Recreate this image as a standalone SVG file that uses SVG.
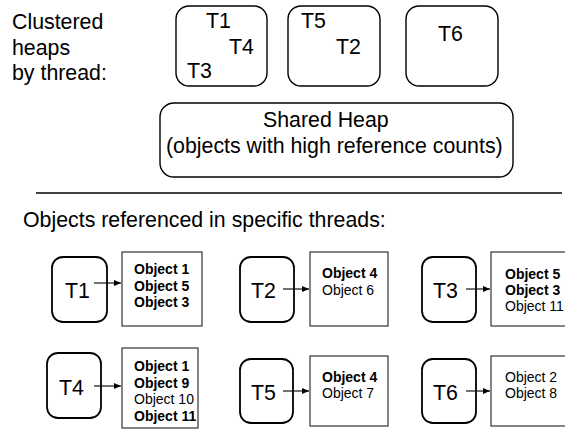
<svg xmlns="http://www.w3.org/2000/svg" width="565" height="429" viewBox="0 0 565 429">
<style>
text{font-family:"Liberation Sans",Arial,sans-serif;fill:#000}
.big{font-size:21.33px}
.obj{font-size:14px}
.b{font-weight:bold}
.heap{fill:#fff;stroke:#000;stroke-width:1.4}
.thr{fill:#fff;stroke:#000;stroke-width:1.8}
.box{fill:#fff;stroke:#222;stroke-width:1.1}
.conn{stroke:#000;stroke-width:1.1;fill:none}
</style>
<defs>
<marker id="ah" markerUnits="userSpaceOnUse" markerWidth="8" markerHeight="8" refX="7" refY="4" orient="auto">
<path d="M0,1 L7,4 L0,7 Z" fill="#000"/>
</marker>
</defs>
<rect width="565" height="429" fill="#fff"/>
<g id="caption-top">
<text class="big" x="12" y="29">Clustered</text>
<text class="big" x="12" y="55">heaps</text>
<text class="big" x="12" y="80">by thread:</text>
</g>
<g id="heap1">
<rect class="heap" x="176" y="6" width="91" height="80" rx="13"/>
<text class="big" x="206" y="28">T1</text>
<text class="big" x="229" y="54">T4</text>
<text class="big" x="187" y="78">T3</text>
</g>
<g id="heap2">
<rect class="heap" x="288" y="6" width="92" height="80" rx="13"/>
<text class="big" x="301" y="28">T5</text>
<text class="big" x="336" y="54">T2</text>
</g>
<g id="heap3">
<rect class="heap" x="406" y="6" width="92" height="80" rx="13"/>
<text class="big" x="438" y="41">T6</text>
</g>
<g id="shared">
<rect class="heap" x="160" y="103" width="353" height="74" rx="14"/>
<text class="big" x="263" y="127">Shared Heap</text>
<text class="big" x="166" y="153">(objects with high reference counts)</text>
</g>
<line x1="36" y1="193" x2="562" y2="193" stroke="#000" stroke-width="1.3"/>
<g id="caption-bottom">
<text class="big" x="23" y="227">Objects referenced in specific threads:</text>
</g>
<g id="t1">
<rect class="thr" x="52" y="257" width="55" height="65" rx="11"/>
<text class="big" x="65" y="298">T1</text>
</g>
<g id="o1">
<rect class="box" x="122" y="252" width="80" height="74"/>
<text class="obj b" x="134" y="274">Object 1</text>
<text class="obj b" x="134" y="290.5">Object 5</text>
<text class="obj b" x="134" y="307">Object 3</text>
</g>
<g id="t2">
<rect class="thr" x="240" y="257" width="54" height="65" rx="11"/>
<text class="big" x="251" y="298">T2</text>
</g>
<g id="o2">
<rect class="box" x="310" y="252" width="78" height="74"/>
<text class="obj b" x="322" y="278">Object 4</text>
<text class="obj" x="322" y="295">Object 6</text>
</g>
<g id="t3">
<rect class="thr" x="422" y="257" width="54" height="65" rx="11"/>
<text class="big" x="433" y="298">T3</text>
</g>
<g id="o3">
<rect class="box" x="491" y="252" width="80" height="74"/>
<text class="obj b" x="505" y="279">Object 5</text>
<text class="obj b" x="505" y="295">Object 3</text>
<text class="obj" x="505" y="311">Object 11</text>
</g>
<g id="t4">
<rect class="thr" x="47" y="353" width="54" height="65" rx="11"/>
<text class="big" x="59" y="395">T4</text>
</g>
<g id="o4">
<rect class="box" x="122" y="348" width="76" height="80"/>
<text class="obj b" x="134" y="371">Object 1</text>
<text class="obj b" x="134" y="387.5">Object 9</text>
<text class="obj" x="134" y="404">Object 10</text>
<text class="obj b" x="134" y="420.5">Object 11</text>
</g>
<g id="t5">
<rect class="thr" x="240" y="359" width="53" height="64" rx="11"/>
<text class="big" x="251" y="400">T5</text>
</g>
<g id="o5">
<rect class="box" x="310" y="356" width="78" height="70"/>
<text class="obj b" x="322" y="382">Object 4</text>
<text class="obj" x="322" y="398">Object 7</text>
</g>
<g id="t6">
<rect class="thr" x="422" y="359" width="54" height="64" rx="11"/>
<text class="big" x="433" y="400">T6</text>
</g>
<g id="o6">
<rect class="box" x="491" y="356" width="80" height="70"/>
<text class="obj" x="505" y="382">Object 2</text>
<text class="obj" x="505" y="398">Object 8</text>
</g>
<g id="connectors">
<line class="conn" x1="94" y1="283" x2="121" y2="283" marker-end="url(#ah)"/>
<line class="conn" x1="283" y1="289" x2="309" y2="289" marker-end="url(#ah)"/>
<line class="conn" x1="466" y1="289" x2="490" y2="289" marker-end="url(#ah)"/>
<line class="conn" x1="94" y1="386" x2="121" y2="386" marker-end="url(#ah)"/>
<line class="conn" x1="283" y1="391" x2="309" y2="391" marker-end="url(#ah)"/>
<line class="conn" x1="466" y1="391" x2="490" y2="391" marker-end="url(#ah)"/>
</g>
</svg>
